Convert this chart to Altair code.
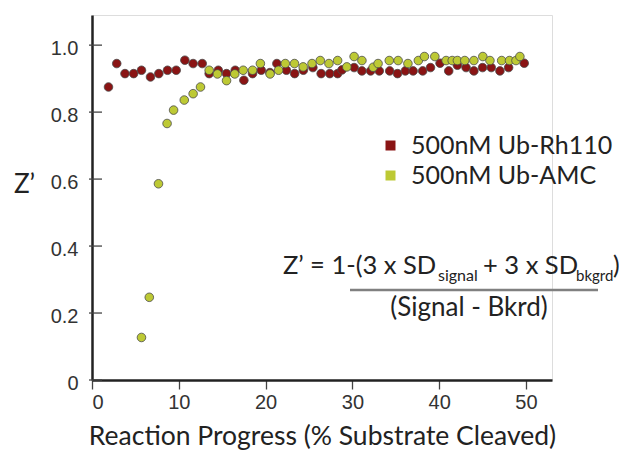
import altair as alt
import pandas as pd

# ---- data ----
rh_x = [1.9, 2.85, 3.8, 4.8, 5.7, 6.74, 7.7, 8.7, 9.7, 10.7, 11.65, 12.7, 13.5, 14.55,
        15.5, 16.5, 17.5, 18.5, 19.5, 20.5, 21.3, 22.4, 23.35, 24.35, 25.45, 26.4, 27.4,
        28.3, 28.8, 30.2, 31.1, 32.1, 33.1, 34.3, 35.2, 36.1, 37.0, 38.1, 39.0, 40.1,
        41.1, 42.1, 43.1, 44.0, 45.0, 46.0, 47.0, 48.0, 49.8]
rh_y = [0.875, 0.945, 0.915, 0.915, 0.925, 0.905, 0.915, 0.925, 0.925, 0.955, 0.945, 0.945,
        0.915, 0.925, 0.915, 0.925, 0.895, 0.915, 0.925, 0.918, 0.945, 0.925, 0.915, 0.925,
        0.933, 0.915, 0.915, 0.915, 0.926, 0.933, 0.923, 0.923, 0.923, 0.923, 0.915, 0.923,
        0.923, 0.923, 0.933, 0.946, 0.923, 0.940, 0.933, 0.923, 0.933, 0.933, 0.923, 0.933,
        0.946]

amc_x = [5.7, 6.6, 7.66, 8.65, 9.4, 10.63, 11.65, 12.5, 13.5, 14.45, 15.5, 16.45, 17.42,
         18.5, 19.4, 20.52, 21.5, 22.27, 23.33, 24.33, 25.35, 26.3, 27.3, 28.3, 29.36, 30.2,
         31.1, 32.4, 32.96, 34.25, 35.27, 36.4, 37.6, 38.3, 39.5, 40.8, 41.5, 42.1, 42.95,
         44.0, 45.03, 45.85, 47.2, 48.1, 48.85, 49.3]
amc_y = [0.127, 0.247, 0.586, 0.766, 0.806, 0.836, 0.855, 0.875, 0.925, 0.914, 0.894, 0.914,
         0.925, 0.925, 0.945, 0.914, 0.925, 0.945, 0.945, 0.935, 0.945, 0.954, 0.945, 0.954,
         0.935, 0.966, 0.954, 0.934, 0.945, 0.954, 0.954, 0.945, 0.954, 0.966, 0.966, 0.954,
         0.954, 0.954, 0.954, 0.954, 0.966, 0.954, 0.954, 0.954, 0.954, 0.966]

series_names = ["500nM Ub-Rh110", "500nM Ub-AMC"]
series_colors = ["#8a1414", "#bdc934"]

x_ticks = [0, 10, 20, 30, 40, 50]
y_ticks = [0, 0.2, 0.4, 0.6, 0.8, 1.0]

x_title = "Reaction Progress (% Substrate Cleaved)"
y_title = "Z\u2019"

formula_main1 = "Z\u2019 = 1-(3 x SD"
formula_sub1 = "signal"
formula_main2 = "+ 3 x SD"
formula_sub2 = "bkgrd"
formula_close = ")"
formula_denom = "(Signal - Bkrd)"

# ---- build table ----
df = pd.concat([
    pd.DataFrame({"x": rh_x, "y": rh_y, "series": series_names[0]}),
    pd.DataFrame({"x": amc_x, "y": amc_y, "series": series_names[1]}),
], ignore_index=True)

ticks_df = pd.DataFrame({"y": y_ticks})

XDOM = [0, 53]
YDOM = [0, 1.09]
TXT = "#222222"

x_axis = alt.Axis(values=x_ticks, title=x_title, grid=False,
                  labelFont="Liberation Sans", labelFontSize=20, labelColor="#333333",
                  labelPadding=3, tickSize=9, tickColor="#444444", tickWidth=1.3,
                  domainColor="#222222", domainWidth=2.5,
                  titleFont="Lato", titleFontSize=26.5, titleFontWeight="normal",
                  titleColor=TXT, titleY=64, titleBaseline="alphabetic")

y_axis = alt.Axis(values=y_ticks, title=y_title, grid=False, ticks=False, tickSize=0,
                  labelExpr="datum.value == 0 ? '0' : format(datum.value, '.1f')",
                  labelFont="Liberation Sans", labelFontSize=20, labelColor="#333333",
                  labelPadding=14, labelOffset=3,
                  domainColor="#222222", domainWidth=2.5,
                  titleFont="Lato", titleFontSize=26, titleFontWeight="normal",
                  titleColor=TXT, titleAngle=0, titleX=-68, titleY=169,
                  titleAlign="center", titleBaseline="middle")

y_scale = alt.Scale(domain=YDOM, nice=False, zero=False)

points = alt.Chart(df).mark_point(
    filled=True, size=74, stroke="#4a4a4a", strokeWidth=0.8, opacity=1
).encode(
    x=alt.X("x:Q", scale=alt.Scale(domain=XDOM, nice=False, zero=False), axis=x_axis),
    y=alt.Y("y:Q", scale=y_scale, axis=y_axis),
    color=alt.Color("series:N",
                    scale=alt.Scale(domain=series_names, range=series_colors),
                    legend=alt.Legend(title=None, orient="none", legendX=286, legendY=118,
                                      symbolType="square", symbolSize=100,
                                      symbolStrokeWidth=0, symbolOpacity=1,
                                      labelFont="Lato", labelFontSize=25, labelColor=TXT,
                                      labelLimit=400, labelOffset=8, rowPadding=4,
                                      padding=0)),
)

yticks = alt.Chart(ticks_df).mark_rule(color="#444444", strokeWidth=1.3).encode(
    y=alt.Y("y:Q", scale=y_scale, axis=y_axis),
    x=alt.value(-3),
    x2=alt.value(10),
)

one = alt.Data(values=[{"a": 1}])

def txt(s, x, y, size, align="left"):
    return alt.Chart(one).mark_text(
        text=s, font="Lato", fontSize=size, color=TXT, align=align, baseline="alphabetic"
    ).encode(x=alt.value(x), y=alt.value(y))

f1 = txt(formula_main1, 191, 259, 25.5)
f2 = txt(formula_sub1, 346, 266, 16)
f3 = txt(formula_main2, 391, 259, 25.5)
f4 = txt(formula_sub2, 484, 266, 15)
f5 = txt(formula_close, 521, 259, 25)
f6 = txt(formula_denom, 377, 301, 26, align="center")

frac_line = alt.Chart(one).mark_rule(color="#808080", strokeWidth=2.5).encode(
    x=alt.value(258), x2=alt.value(506), y=alt.value(275)
)

chart = alt.layer(points, yticks, frac_line, f1, f2, f3, f4, f5, f6).properties(
    width=460, height=365,
    autosize=alt.AutoSizeParams(type="none"),
    padding={"left": 84, "top": 7, "right": 67, "bottom": 70},
).configure_view(stroke=None).configure(background="white")

chart.save("out.html", embed_options={"renderer": "svg", "actions": False})
